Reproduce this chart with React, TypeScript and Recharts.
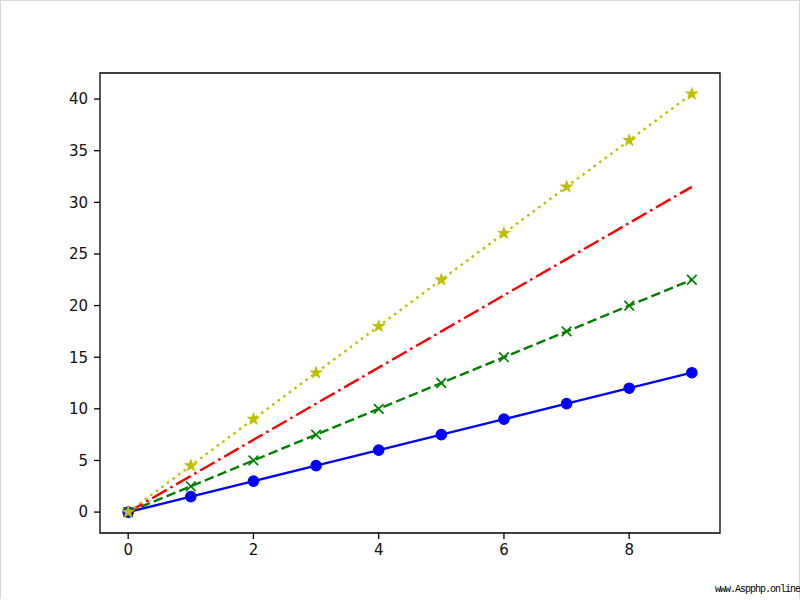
import { LineChart, Line, XAxis, YAxis, ReferenceArea } from "recharts"

const xValues = [0, 1, 2, 3, 4, 5, 6, 7, 8, 9]
const blueValues = [0, 1.5, 3, 4.5, 6, 7.5, 9, 10.5, 12, 13.5]
const greenValues = [0, 2.5, 5, 7.5, 10, 12.5, 15, 17.5, 20, 22.5]
const redValues = [0, 3.5, 7, 10.5, 14, 17.5, 21, 24.5, 28, 31.5]
const yellowValues = [0, 4.5, 9, 13.5, 18, 22.5, 27, 31.5, 36, 40.5]

const xTicks = [0, 2, 4, 6, 8]
const yTicks = [0, 5, 10, 15, 20, 25, 30, 35, 40]
const xDomain = [-0.45, 9.45]
const yDomain = [-2.025, 42.525]

const BLUE = "#0000ff"
const GREEN = "#008000"
const RED = "#ff0000"
const YELLOW = "#bfbf00"

const data = xValues.map((x, i) => ({
    x,
    blue: blueValues[i],
    green: greenValues[i],
    red: redValues[i],
    yellow: yellowValues[i],
}))

const tickStyle = { fill: "#111", fontSize: 15, fontFamily: "DejaVu Sans" }
const tickLineStyle = { stroke: "#000", strokeWidth: 1.3 }

function CircleDot(props: any) {
    const { cx, cy, index } = props
    if (cx == null || cy == null) return null
    return <circle key={index} cx={cx} cy={cy} r={5.2} fill={BLUE} stroke={BLUE} strokeWidth={1.2} />
}

function CrossDot(props: any) {
    const { cx, cy, index } = props
    if (cx == null || cy == null) return null
    const s = 4.8
    return (
        <g key={index} stroke={GREEN} strokeWidth={1.7}>
            <line x1={cx - s} y1={cy - s} x2={cx + s} y2={cy + s} />
            <line x1={cx - s} y1={cy + s} x2={cx + s} y2={cy - s} />
        </g>
    )
}

function StarDot(props: any) {
    const { cx, cy, index } = props
    if (cx == null || cy == null) return null
    const outer = 5.6
    const inner = outer * 0.4
    const pts: string[] = []
    for (let k = 0; k < 10; k++) {
        const r = k % 2 === 0 ? outer : inner
        const a = -Math.PI / 2 + (k * Math.PI) / 5
        pts.push(`${cx + r * Math.cos(a)},${cy + r * Math.sin(a)}`)
    }
    return <polygon key={index} points={pts.join(" ")} fill={YELLOW} stroke={YELLOW} strokeWidth={1.2} />
}

export default function App() {
    return (
        <div style={{ position: "absolute", left: 0, top: 0, width: 800, height: 600, background: "#fff" }}>
            <div
                style={{
                    position: "absolute",
                    left: 0,
                    top: 0,
                    width: 798,
                    height: 598,
                    border: "1px solid #d8d8d8",
                    borderBottom: "none",
                }}
            />
            <LineChart
                width={800}
                height={600}
                data={data}
                margin={{ top: 73, right: 80, bottom: 0, left: 0 }}
                style={{ position: "absolute", left: 0, top: 0 }}
            >
                <XAxis
                    dataKey="x"
                    type="number"
                    domain={xDomain}
                    ticks={xTicks}
                    allowDataOverflow
                    height={67}
                    tick={tickStyle}
                    tickSize={6}
                    tickMargin={5}
                    tickLine={tickLineStyle}
                    axisLine={false}
                />
                <YAxis
                    type="number"
                    domain={yDomain}
                    ticks={yTicks}
                    allowDataOverflow
                    width={100}
                    tick={tickStyle}
                    tickSize={6}
                    tickMargin={6}
                    tickLine={tickLineStyle}
                    axisLine={false}
                />
                <Line
                    dataKey="blue"
                    stroke={BLUE}
                    strokeWidth={2.4}
                    dot={CircleDot}
                    activeDot={false}
                    isAnimationActive={false}
                />
                <Line
                    dataKey="green"
                    stroke={GREEN}
                    strokeWidth={2.4}
                    strokeDasharray="9.6 4.2"
                    dot={CrossDot}
                    activeDot={false}
                    isAnimationActive={false}
                />
                <Line
                    dataKey="red"
                    stroke={RED}
                    strokeWidth={2.4}
                    strokeDasharray="16.7 4.2 2.6 4.2"
                    dot={false}
                    activeDot={false}
                    isAnimationActive={false}
                />
                <Line
                    dataKey="yellow"
                    stroke={YELLOW}
                    strokeWidth={2.4}
                    strokeDasharray="2.6 4.3"
                    dot={StarDot}
                    activeDot={false}
                    isAnimationActive={false}
                />
                <ReferenceArea
                    x1={xDomain[0]}
                    x2={xDomain[1]}
                    y1={yDomain[0]}
                    y2={yDomain[1]}
                    fill="none"
                    fillOpacity={0}
                    stroke="#000"
                    strokeWidth={1.3}
                    ifOverflow="visible"
                />
            </LineChart>
            <div
                style={{
                    position: "absolute",
                    left: 715,
                    top: 584,
                    fontFamily: "Liberation Mono",
                    fontSize: 10,
                    letterSpacing: -1,
                    lineHeight: "12px",
                    color: "#000",
                    whiteSpace: "nowrap",
                }}
            >
                www.Aspphp.online
            </div>
        </div>
    )
}
